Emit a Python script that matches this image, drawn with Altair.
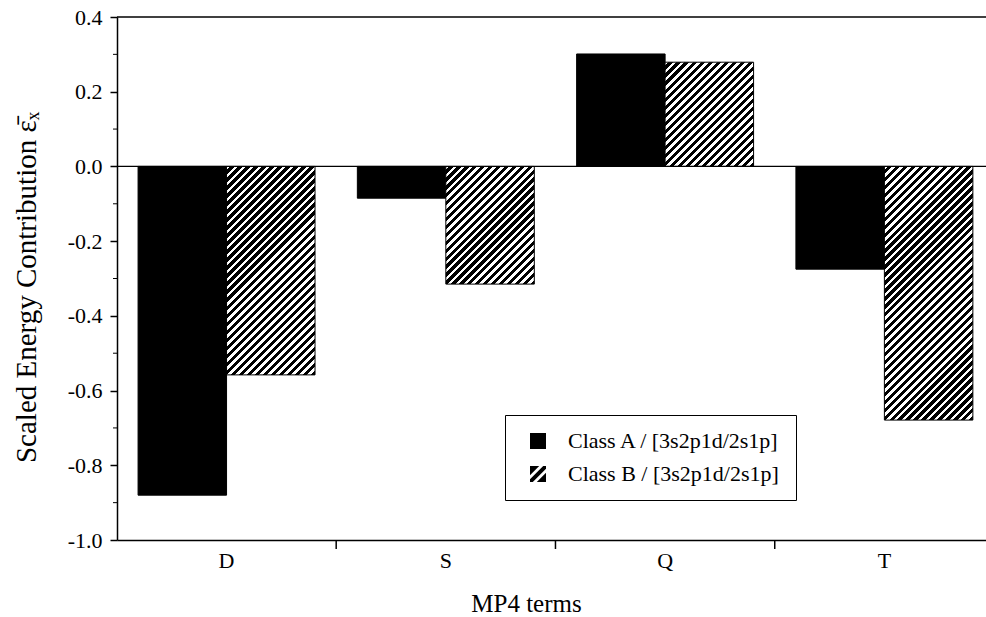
import altair as alt
import pandas as pd

# ---- data ----
CATEGORIES = ["D", "S", "Q", "T"]
SERIES = ["Class A / [3s2p1d/2s1p]", "Class B / [3s2p1d/2s1p]"]
CLASS_A = [-0.88, -0.085, 0.301, -0.275]
CLASS_B = [-0.558, -0.315, 0.279, -0.679]
Y_DOMAIN = [-1.0, 0.4]
Y_MAJOR = [-1.0, -0.8, -0.6, -0.4, -0.2, 0.0, 0.2, 0.4]
Y_MINOR = [-0.9, -0.7, -0.5, -0.3, -0.1, 0.1, 0.3]

# ---- layout / style ----
W, H = 869, 523
FONT = "Liberation Serif"
P_INNER, P_OUTER, ALIGN = 0.193, 0.078, 0.616
STEP = W / (len(CATEGORIES) - P_INNER + 2 * P_OUTER)
BAR_W = STEP * (1 - P_INNER) / 2
GAP_PX = STEP * P_INNER / 2  # half of the gap between groups
PX_PER_UNIT = H / (Y_DOMAIN[1] - Y_DOMAIN[0])
PERIOD = 8.0  # horizontal hatch period in px

rows = []
for c, a, b in zip(CATEGORIES, CLASS_A, CLASS_B):
    rows.append({"cat": c, "cls": SERIES[0], "value": a})
    rows.append({"cat": c, "cls": SERIES[1], "value": b})
df = pd.DataFrame(rows)


def hatch_gradient(value):
    w = BAR_W
    h = max(abs(value) * PX_PER_UNIT, 1.0)
    c = (1 / h + 1 / w) / (1 / h ** 2 + 1 / w ** 2)
    n = max(1, int(round((w + h) / PERIOD)))
    stops = []
    for k in range(n):
        a0 = k / n
        a1 = (k + 0.45) / n
        a2 = (k + 1) / n
        stops += [
            {"offset": a0, "color": "white"},
            {"offset": a1, "color": "white"},
            {"offset": a1, "color": "black"},
            {"offset": a2, "color": "black"},
        ]
    return {"gradient": "linear", "x1": 0, "y1": 0, "x2": c / h, "y2": c / w, "stops": stops}


# hatched square for the legend (outer square with reverse-wound stripes as holes)
HATCH_PATH = (
    "M-1,-1H1V1H-1Z "
    "M-1,0.65L0.65,-1L0.15,-1L-1,0.15Z "
    "M-0.15,1L1,-0.15L1,-0.65L-0.65,1Z"
)

x_scale = alt.Scale(domain=CATEGORIES, paddingInner=P_INNER, paddingOuter=P_OUTER, align=ALIGN)
x_axis = alt.Axis(
    title="MP4 terms",
    labelAngle=0,
    tickSize=9,
    tickOpacity=0,
    labelPadding=18,
    labelBaseline="alphabetic",
    labelFont=FONT,
    labelFontSize=22,
    titleFont=FONT,
    titleFontSize=25,
    titleFontWeight="normal",
    titleX=409,
    titleY=71,
    titleBaseline="alphabetic",
)
x_enc = alt.X("cat:N", sort=CATEGORIES, scale=x_scale, axis=x_axis)
xo_enc = alt.XOffset("cls:N", scale=alt.Scale(domain=SERIES, paddingInner=0, paddingOuter=0))
y_enc = alt.Y(
    "value:Q",
    scale=alt.Scale(domain=Y_DOMAIN, nice=False, zero=False),
    axis=alt.Axis(
        title="Scaled Energy Contribution ε̄ₓ",
        values=Y_MAJOR,
        labelExpr="replace(format(datum.value, '.1f'), '\u2212', '-')",
        tickSize=7,
        labelPadding=8,
        labelFont=FONT,
        labelFontSize=22,
        titleFont=FONT,
        titleFontSize=29,
        titleFontWeight="normal",
        titleX=-82,
        titleY=270,
        titleBaseline="alphabetic",
        grid=False,
    ),
)

base = alt.Chart(df)

bars_a = base.transform_filter(alt.datum.cls == SERIES[0]).mark_bar(
    fill="black", stroke="black", strokeWidth=1
).encode(x=x_enc, xOffset=xo_enc, y=y_enc)

layers = [bars_a]
for c, v in zip(CATEGORIES, CLASS_B):
    layers.append(
        base.transform_filter((alt.datum.cls == SERIES[1]) & (alt.datum.cat == c))
        .mark_bar(fill=hatch_gradient(v), stroke="black", strokeWidth=1)
        .encode(x=x_enc, xOffset=xo_enc, y=y_enc)
    )

legend = alt.Legend(
    orient="none",
    legendX=388,
    legendY=398,
    title=None,
    direction="vertical",
    strokeColor="black",
    fillColor="white",
    padding=15,
    symbolOffset=7,
    labelOffset=19,
    rowPadding=11,
    symbolSize=256,
    symbolOpacity=1,
    symbolStrokeWidth=0,
    labelFont=FONT,
    labelFontSize=22,
    labelColor="black",
    labelLimit=0,
)
legend_pts = base.mark_point(filled=True, opacity=0).encode(
    x=x_enc,
    xOffset=xo_enc,
    y=y_enc,
    fill=alt.Fill("cls:N", scale=alt.Scale(domain=SERIES, range=["black", "black"]), legend=legend),
    shape=alt.Shape("cls:N", scale=alt.Scale(domain=SERIES, range=["square", HATCH_PATH]), legend=legend),
)
layers.append(legend_pts)

# x-axis ticks in the gaps between the category groups
gap_ticks = alt.Chart(pd.DataFrame({"cat": CATEGORIES[:-1]})).mark_rule(
    color="black", strokeWidth=1.5, xOffset=GAP_PX
).encode(
    x=alt.X("cat:N", sort=CATEGORIES, scale=x_scale, axis=x_axis, bandPosition=1),
    y=alt.value(H),
    y2=alt.value(H + 9),
)
zero_line = alt.Chart(pd.DataFrame({"value": [0.0]})).mark_rule(color="black", strokeWidth=1.3).encode(
    y=y_enc, x=alt.value(0), x2=alt.value(W)
)
top_line = alt.Chart(pd.DataFrame({"value": [Y_DOMAIN[1]]})).mark_rule(color="black", strokeWidth=1.5).encode(
    y=y_enc, x=alt.value(0), x2=alt.value(W)
)
minor = alt.Chart(pd.DataFrame({"value": Y_MINOR})).mark_rule(color="black", strokeWidth=1).encode(
    y=y_enc, x=alt.value(-4), x2=alt.value(0)
)
layers += [gap_ticks, zero_line, top_line, minor]

chart = (
    alt.layer(*layers)
    .properties(
        width=W,
        height=H,
        autosize=alt.AutoSizeParams(type="none"),
        padding={"left": 117, "top": 17, "right": 0, "bottom": 77},
        background="white",
    )
    .configure_view(stroke=None)
    .configure_axis(
        domainColor="black",
        domainWidth=1.5,
        tickColor="black",
        tickWidth=1.5,
        labelColor="black",
        titleColor="black",
        labelFont=FONT,
        titleFont=FONT,
    )
)

chart.save("out.html", embed_options={"renderer": "svg", "actions": False})
